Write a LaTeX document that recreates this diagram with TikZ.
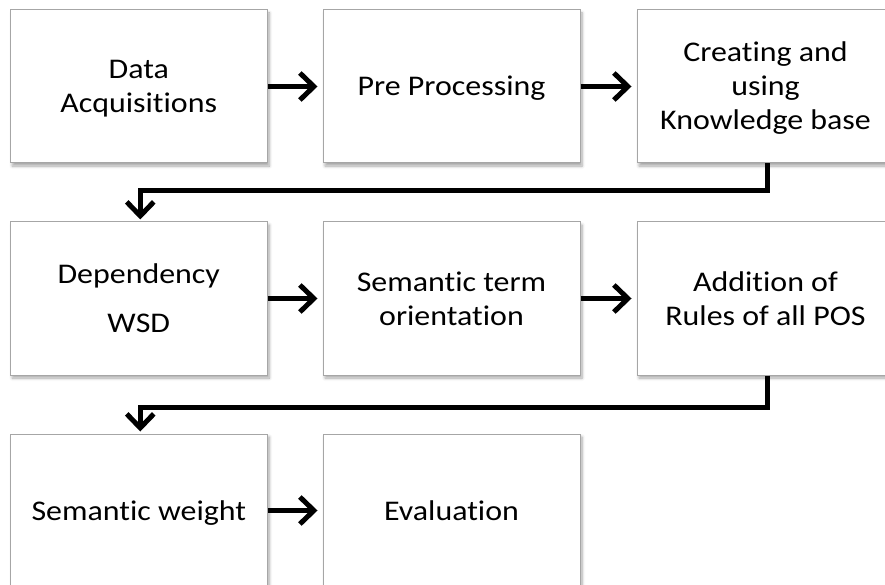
\documentclass[tikz,border=0pt]{standalone}
\usepackage{fontspec}
\setmainfont{Carlito}[FakeStretch=1.12, Ligatures=NoCommon]
\usetikzlibrary{arrows.meta,shadows.blur}

% invisible strut giving every text line the same height and depth
\newcommand\lnstrut{\rule[-7pt]{0pt}{33pt}}

\begin{document}
\begin{tikzpicture}[x=1pt,y=-1pt,
  stage/.style={draw=black!35, line width=1pt, fill=white,
    minimum width=257pt, minimum height=153pt, inner sep=0pt,
    align=center, font=\fontsize{28.5}{34}\selectfont,
    blur shadow={shadow xshift=2pt, shadow yshift=-3pt,
      shadow blur steps=6, shadow blur radius=3pt, shadow opacity=35}},
  flow/.style={line width=5pt, draw=black,
    -{Straight Barb[length=14pt,width=27pt]}},
]
\useasboundingbox (0,0) rectangle (885,585);

% first row
\node[stage] (a1) at (138.75,86.5) {\lnstrut Data\\\lnstrut Acquisitions};
\node[stage] (a2) at (451.5,86.5) {\lnstrut Pre Processing};
\node[stage] (a3) at (765.5,86.5) {\lnstrut Creating and\\\lnstrut using\\\lnstrut Knowledge base};

% second row
\node[stage] (b1) at (138.75,298.5) {\lnstrut Dependency\\[15pt]\lnstrut WSD};
\node[stage] (b2) at (451.5,298.5) {\lnstrut Semantic term\\\lnstrut orientation};
\node[stage] (b3) at (765.5,298.5) {\lnstrut Addition of\\\lnstrut Rules of all POS};

% third row
\node[stage] (c1) at (138.75,510.5) {\lnstrut Semantic weight};
\node[stage] (c2) at (451.5,510.5) {\lnstrut Evaluation};

% connectors
\draw[flow, shorten >=5pt] (a1) -- (a2);
\draw[flow, shorten >=5pt] (a2) -- (a3);
\draw[flow, shorten >=2pt] ([xshift=1.5pt]a3.south) -- ++(0,27) -| ([xshift=1.5pt]b1.north);

\draw[flow, shorten >=5pt] (b1) -- (b2);
\draw[flow, shorten >=5pt] (b2) -- (b3);
\draw[flow, shorten >=2pt] ([xshift=1.5pt]b3.south) -- ++(0,32) -| ([xshift=1.5pt]c1.north);

\draw[flow, shorten >=5pt] (c1) -- (c2);
\end{tikzpicture}
\end{document}
